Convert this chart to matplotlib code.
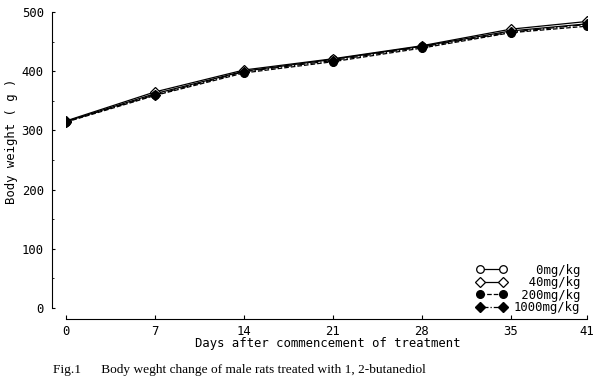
import matplotlib
matplotlib.use('Agg')
import matplotlib.pyplot as plt

# data
days = [0, 7, 14, 21, 28, 35, 41]
w_0 = [315, 362, 400, 420, 442, 468, 480]
w_40 = [316, 365, 402, 421, 443, 471, 484]
w_200 = [314, 359, 397, 416, 439, 465, 476]
w_1000 = [315, 360, 399, 418, 441, 466, 479]
labels = ['   0mg/kg', '  40mg/kg', ' 200mg/kg', '1000mg/kg']

mono = 'DejaVu Sans Mono'
fs = 8.8

W, H = 596, 391
fig = plt.figure(figsize=(W / 100, H / 100), dpi=100)
# plot area: day 0 at x=66, day 41 at x=587; 0 g at y=308, 500 g at y=12
ax = fig.add_axes([66 / W, 1 - 308 / H, 521 / W, 296 / H])

ms = 5.5
ax.plot(days, w_0, '-', color='black', lw=0.9, marker='o', mfc='white', mec='black', mew=0.9, ms=ms, label=labels[0])
ax.plot(days, w_40, '-', color='black', lw=0.9, marker='D', mfc='white', mec='black', mew=0.9, ms=ms - 0.5, label=labels[1])
ax.plot(days, w_200, '--', color='black', lw=0.9, marker='o', mfc='black', mec='black', ms=ms, label=labels[2])
ax.plot(days, w_1000, '-.', color='black', lw=0.9, marker='D', mfc='black', mec='black', ms=ms - 0.5, label=labels[3])

ax.set_xlim(0, 41)
ax.set_ylim(0, 500)
ax.set_xticks(days)
ax.set_yticks([0, 100, 200, 300, 400, 500])
ax.set_yticks([50, 150, 250, 350, 450], minor=True)

for s in ['top', 'right']:
  ax.spines[s].set_visible(False)
ax.spines['left'].set_position(('outward', 10))   # ~14 px left of day 0
ax.spines['bottom'].set_position(('outward', 8))  # ~11 px below 0 g
ax.spines['left'].set_linewidth(0.8)
ax.spines['bottom'].set_linewidth(0.8)
ax.tick_params(axis='y', direction='in', length=2.5, width=0.8, pad=6, labelsize=fs)
ax.tick_params(axis='y', which='minor', direction='in', length=1.5, width=0.6)
ax.tick_params(axis='x', direction='in', length=3, width=0.8, pad=4, labelsize=fs)
for t in ax.get_xticklabels() + ax.get_yticklabels():
  t.set_family(mono)

ax.set_xlabel('Days after commencement of treatment', family=mono, fontsize=fs)
ax.set_ylabel('Body weight ( g )', family=mono, fontsize=fs)
ax.yaxis.set_label_coords(12 / W, 1 - 141 / H, transform=fig.transFigure)
ax.xaxis.set_label_coords(328 / W, 1 - 344 / H, transform=fig.transFigure)
ax.xaxis.label.set_va('center')
ax.yaxis.label.set_va('center')

leg = ax.legend(loc='lower right', bbox_to_anchor=(0.987, -0.02), numpoints=2, frameon=False,
                handlelength=2.5, handletextpad=0.6, labelspacing=-0.05, borderaxespad=0.0,
                borderpad=0.0, prop={'family': mono, 'size': fs})

fig.text(53 / W, 1 - 370 / H, 'Fig.1      Body weght change of male rats treated with 1, 2-butanediol',
         family='Liberation Serif', fontsize=9.6, va='center')

fig.savefig('out.png', dpi=100)
